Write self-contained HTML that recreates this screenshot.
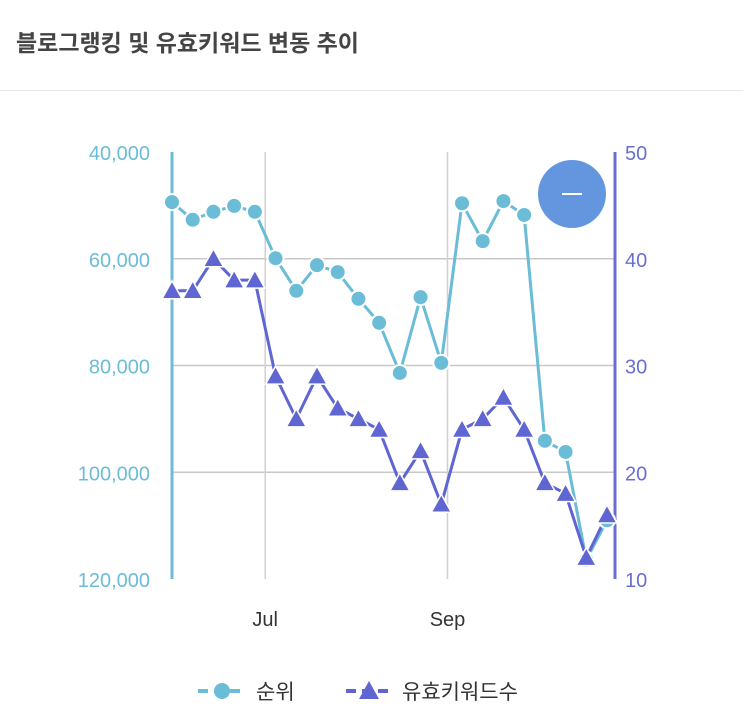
<!DOCTYPE html>
<html><head><meta charset="utf-8"><style>
body{margin:0;width:743px;height:714px;background:#fff;overflow:hidden;font-family:"Liberation Sans","Noto Sans CJK KR",sans-serif;}
#title{position:absolute;left:16px;top:24px;font-size:23px;font-weight:bold;color:#444;}
#sep{position:absolute;left:0;top:90px;width:743px;height:1px;background:#e6e6e6;}
svg{position:absolute;left:0;top:0;}
</style></head><body>
<div id="title">블로그랭킹 및 유효키워드 변동 추이</div>
<div id="sep"></div>
<svg id="chart" width="743" height="714"></svg>
<script>
const rankValues=[49400,52700,51200,50100,51200,59900,66000,61200,62500,67500,72000,81400,67200,79500,49600,56700,49200,51800,94100,96200,116400,109000];
const keywordValues=[37,37,40,38,38,29,25,29,26,25,24,19,22,17,24,25,27,24,19,18,12,16];
const leftTicks=[40000,60000,80000,100000,120000];
const rightTicks=[50,40,30,20,10];
const xLabels=[{i:4.5,t:"Jul"},{i:13.3,t:"Sep"}];
const X0=172,X1=607,Y0=152,Y1=579;
const NS="http://www.w3.org/2000/svg";
const svg=document.getElementById('chart');
const n=rankValues.length;
const x=i=>X0+(X1-X0)*i/(n-1);
const yL=v=>Y0+(v-40000)/80000*(Y1-Y0);
const yR=v=>Y0+(50-v)/40*(Y1-Y0);
function mk(tag,a){const e=document.createElementNS(NS,tag);for(const k in a)e.setAttribute(k,a[k]);svg.appendChild(e);return e;}
leftTicks.forEach((v,k)=>{
 if(k>0&&k<leftTicks.length-1){const g=mk('line',{x1:X0,x2:615,y1:yL(v),y2:yL(v),stroke:'#c8c8c8','stroke-width':1.5});
 
 }
 const t=mk('text',{x:150,y:yL(v)+8,'text-anchor':'end','font-size':20,fill:'#6bbcd6'});t.textContent=v.toLocaleString('en-US');
 
 
});
rightTicks.forEach(v=>{
 const t=mk('text',{x:625,y:yR(v)+8,'font-size':20,fill:'#6a6fcf'});t.textContent=v;
 
 
});
xLabels.forEach(o=>{
 const g=mk('line',{x1:x(o.i),x2:x(o.i),y1:Y0,y2:Y1,stroke:'#d0d0d0','stroke-width':1.5});
 
 
 const t=mk('text',{x:x(o.i),y:626,'text-anchor':'middle','font-size':20,fill:'#333'});t.textContent=o.t;
 
 
});
const la=mk('line',{x1:X0,x2:X0,y1:Y0,y2:Y1,stroke:'#6bbcd6','stroke-width':3});


const ra=mk('line',{x1:615,x2:615,y1:Y0,y2:Y1,stroke:'#6a6fcf','stroke-width':3});


const p1=mk('polyline',{points:rankValues.map((v,i)=>x(i)+','+yL(v)).join(' '),fill:'none',stroke:'#6bbcd6','stroke-width':3});


const p2=mk('polyline',{points:keywordValues.map((v,i)=>x(i)+','+yR(v)).join(' '),fill:'none',stroke:'#5f66d2','stroke-width':3});


rankValues.forEach((v,i)=>{
 const c=mk('circle',{cx:x(i),cy:yL(v),r:8,fill:'#6bbcd6',stroke:'#fff','stroke-width':2});
 
 
});
keywordValues.forEach((v,i)=>{
 const cx=x(i),cy=yR(v);
 const t=mk('polygon',{points:`${cx},${cy-10} ${cx-10},${cy+8} ${cx+10},${cy+8}`,fill:'#5f66d2',stroke:'#fff','stroke-width':1.5});
 
 
});
const b=mk('circle',{cx:572,cy:194,r:34,fill:'#6496e0'});


const bl=mk('line',{x1:562,x2:582,y1:194,y2:194,stroke:'#fff','stroke-width':2});


// legend
const l1=mk('line',{x1:198,x2:246,y1:691,y2:691,stroke:'#6bbcd6','stroke-width':4,'stroke-dasharray':'10 6'});


const lc=mk('circle',{cx:222,cy:691,r:8,fill:'#6bbcd6'});


const lt1=mk('text',{x:256,y:699,'font-size':21,fill:'#333'});lt1.textContent='순위';


const l2=mk('line',{x1:346,x2:392,y1:691,y2:691,stroke:'#5f66d2','stroke-width':4,'stroke-dasharray':'10 6'});


const lp=mk('polygon',{points:'369,681 359,699 379,699',fill:'#5f66d2'});


const lt2=mk('text',{x:402,y:699,'font-size':21,fill:'#333'});lt2.textContent='유효키워드수';


</script>
</body></html>
